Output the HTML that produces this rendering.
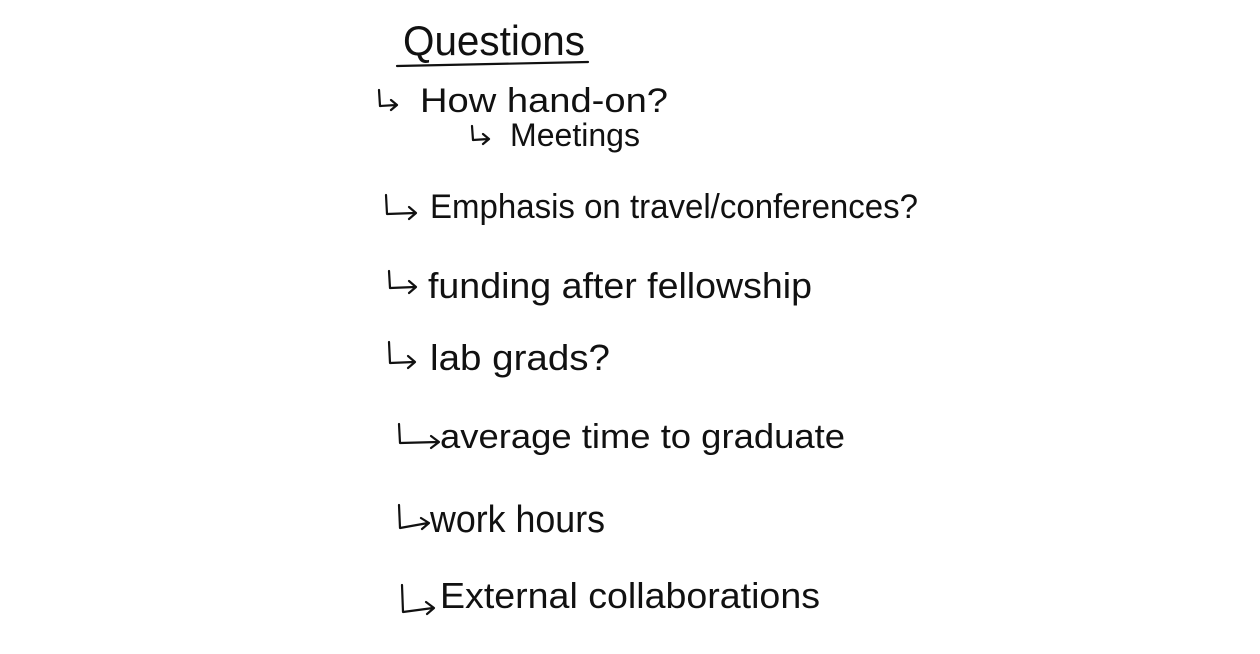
<!DOCTYPE html>
<html><head><meta charset="utf-8"><style>
html,body{margin:0;padding:0;background:#fff;width:1260px;height:654px;overflow:hidden}
svg text{font-family:"Liberation Sans",sans-serif;fill:#111;font-weight:normal}
</style></head><body>
<svg width="1260" height="654" viewBox="0 0 1260 654" xmlns="http://www.w3.org/2000/svg">
<g fill="none" stroke="#111" stroke-width="2.2" stroke-linecap="round" stroke-linejoin="round">
<line x1="397" y1="66" x2="588" y2="62"/>
<!-- hook arrows -->
<path d="M379 90 L380 106 L396 105 M391 100 L397 105 L391 110"/>
<path d="M472 126 L473 140 L488 139 M483 134 L489 139 L483 144"/>
<path d="M386 195 L387 214 L415 213 M409 207 L416 213 L409 219"/>
<path d="M389 271 L390 288 L415 287 M409 281 L416 287 L409 293"/>
<path d="M389 342 L390 363 L414 362 M408 356 L415 362 L408 368"/>
<path d="M399 424 L400 443 L438 442 M431 436 L439 442 L431 448"/>
<path d="M399 505 L400 528 L428 523 M421 518 L429 523 L422 529"/>
<path d="M402 585 L403 612 L433 608 M426 602 L434 608 L427 614"/>
</g>
<text x="403" y="55" font-size="42" textLength="182" lengthAdjust="spacingAndGlyphs">Questions</text>
<text x="420" y="112" font-size="34" textLength="248" lengthAdjust="spacingAndGlyphs">How hand-on?</text>
<text x="510" y="146" font-size="32" textLength="130" lengthAdjust="spacingAndGlyphs">Meetings</text>
<text x="430" y="218" font-size="34" textLength="488" lengthAdjust="spacingAndGlyphs">Emphasis on travel/conferences?</text>
<text x="428" y="298" font-size="36" textLength="384" lengthAdjust="spacingAndGlyphs">funding after fellowship</text>
<text x="430" y="370" font-size="36" textLength="180" lengthAdjust="spacingAndGlyphs">lab grads?</text>
<text x="440" y="448" font-size="34" textLength="405" lengthAdjust="spacingAndGlyphs">average time to graduate</text>
<text x="430" y="532" font-size="38" textLength="175" lengthAdjust="spacingAndGlyphs">work hours</text>
<text x="440" y="608" font-size="36" textLength="380" lengthAdjust="spacingAndGlyphs">External collaborations</text>
</svg>
</body></html>
